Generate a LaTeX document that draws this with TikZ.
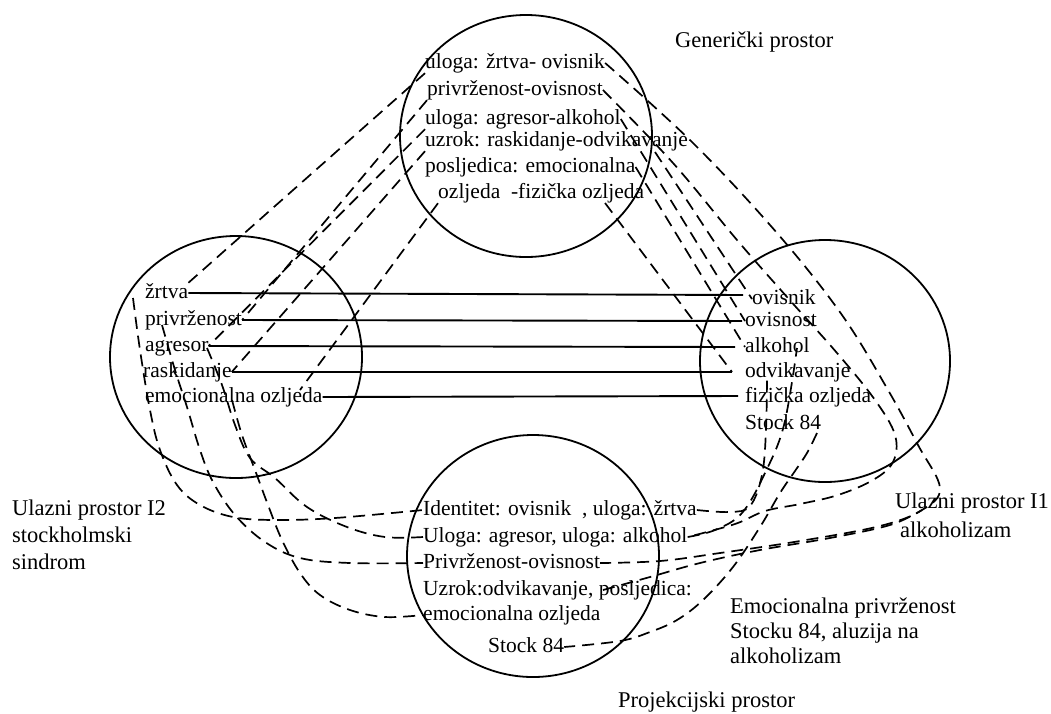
\documentclass[tikz,border=0pt]{standalone}
\usepackage{fontspec}
\setmainfont{Liberation Serif}
\begin{document}
\begin{tikzpicture}[x=1pt,y=-1pt,
  ct/.style={anchor=west,inner sep=0pt,font=\fontsize{21.5}{26}\selectfont,text height=15pt,text depth=5pt},
  lb/.style={anchor=west,inner sep=0pt,font=\fontsize{22.5}{27}\selectfont,text height=15pt,text depth=5pt},
  ring/.style={line width=1.8pt},
  sl/.style={line width=1.9pt},
  dl/.style={line width=1.7pt,dash pattern=on 12pt off 7pt}]
\fill[white] (0,0) rectangle (1051,713);
\useasboundingbox (0,0) rectangle (1051,713);

% circles
\draw[ring] (526,136) ellipse [x radius=126pt, y radius=121pt];
\draw[ring] (236,357) ellipse [x radius=126pt, y radius=121pt];
\draw[ring] (825,361) ellipse [x radius=125pt, y radius=121pt];
\draw[ring] (533,556) ellipse [x radius=126pt, y radius=121pt];

% generic space
\node[ct] (t1) at (425,63) {uloga: žrtva- ovisnik};
\node[ct] (t2) at (427,90) {privrženost-ovisnost};
\node[ct] (t3) at (425,119) {uloga: agresor-alkohol};
\node[ct] (t4) at (425,141) {uzrok: raskidanje-odvikavanje};
\node[ct] (t5) at (425,167) {posljedica: emocionalna};
\node[ct] (t6) at (438,193) {ozljeda\ \ -fizička ozljeda};

% input I2
\node[ct] (l1) at (145,293) {žrtva};
\node[ct] (l2) at (145,320) {privrženost};
\node[ct] (l3) at (145,346) {agresor};
\node[ct] (l4) at (143,372) {raskidanje};
\node[ct] (l5) at (145,397) {emocionalna ozljeda};

% input I1
\node[ct] (r1) at (752,299) {ovisnik};
\node[ct] (r2) at (745,321) {ovisnost};
\node[ct] (r3) at (745,347) {alkohol};
\node[ct] (r4) at (745,372) {odvikavanje};
\node[ct] (r5) at (745,397) {fizička ozljeda};
\node[ct] (r6) at (745,424) {Stock 84};

% blend
\node[ct] (b1) at (423,510) {Identitet: ovisnik \ , uloga: žrtva};
\node[ct] (b2) at (423,537) {Uloga: agresor, uloga: alkohol};
\node[ct] (b3) at (423,563) {Privrženost-ovisnost};
\node[ct] (b4) at (423,590) {Uzrok:odvikavanje, posljedica:};
\node[ct] (b5) at (423,615) {emocionalna ozljeda};
\node[ct] (b6) at (488,647) {Stock 84};

% labels
\node[lb] (gen) at (675,42) {Generički prostor};
\node[lb] (i2a) at (12,510) {Ulazni prostor I2};
\node[lb] (i2b) at (12,537) {stockholmski};
\node[lb] (i2c) at (12,564) {sindrom};
\node[lb] (i1a) at (895,503) {Ulazni prostor I1};
\node[lb] (i1b) at (900,532) {alkoholizam};
\node[lb] (em1) at (730,608) {Emocionalna privrženost};
\node[lb] (em2) at (730,633) {Stocku 84, aluzija na};
\node[lb] (em3) at (730,658) {alkoholizam};
\node[lb] (proj) at (618,702) {Projekcijski prostor};

% free ends
\coordinate (l1m) at (133,298);
\coordinate (l2m) at (162,325);
\coordinate (l3m) at (207,348);
\coordinate (l5m) at (232,400);
\coordinate (l5n) at (300,390);
\coordinate (r3m) at (797,348);
\coordinate (r4m) at (767,375);
\coordinate (r6m) at (817,433);
\coordinate (b4m) at (603,590);
\coordinate (t4m) at (655,152);
\coordinate (t6m) at (605,203);

% solid cross-space mappings
\draw[sl] (l1.east) -- ([xshift=-9pt,yshift=4pt]r1.west);
\draw[sl] (l2.east) -- ([xshift=-3pt]r2.west);
\draw[sl] (l3.east) -- ([xshift=-10pt]r3.west);
\draw[sl] (l4.east) -- ([xshift=-13pt]r4.west);
\draw[sl] (l5.east) -- ([xshift=-7pt,yshift=1pt]r5.west);

% generic -> I2
\draw[dl] (t1.south west) -- (l1.north east);
\draw[dl] (t2.south west) -- (l2.east);
\draw[dl] (t3.south west) -- (l3.east);
\draw[dl] (t4.south west) -- (l4.east);
\draw[dl] (t6.south west) -- (l5n);

% generic -> I1
\draw[dl] (t3.east) -- (r2.west);
\draw[dl] (t5.east) -- (r3.west);
\draw[dl] (t6m) -- ([xshift=-13pt]r4.west);
\draw[dl] (t4m) -- (r1.west);

% generic -> blend (around I1)
\draw[dl] plot[smooth,tension=0.6] coordinates {(t1.east) (693,143) (777,233) (842,315) (888,390) (918,445) (940,488) (922,510) (880,526) (800,541) (720,553) (660,561) (b3.east)};
\draw[dl] plot[smooth,tension=0.6] coordinates {(t2.east) (673,163) (737,240) (787,297) (837,353) (875,400) (895,435) (893,462) (873,480) (838,495) (800,504) (765,511) (735,524) (b2.east)};
\draw[dl] plot[smooth,tension=0.6] coordinates {(b4m) (650,577) (700,563) (760,550) (830,538) (890,525) (922,510)};

% I1 -> blend
\draw[dl] plot[smooth,tension=0.6] coordinates {(b1.east) (730,512) (750,506) (762,475) (766,430) (r4m)};
\draw[dl] plot[smooth,tension=0.6] coordinates {(b2.east) (715,530) (742,513) (765,473) (784,425) (r3m)};
\draw[dl] plot[smooth,tension=0.6] coordinates {(r6m) (807,453) (795,471) (780,493) (760,527) (733,567) (703,600) (677,620) (650,632) (620,641) (b6.east)};

% I2 -> blend
\draw[dl] plot[smooth,tension=0.6] coordinates {(l1m) (140,350) (150,410) (160,450) (177,485) (200,505) (233,517) (275,520) (335,518) (b1.west)};
\draw[dl] plot[smooth,tension=0.6] coordinates {(l2m) (175,370) (187,407) (200,450) (213,482) (235,515) (265,542) (300,558) (350,563) (b3.west)};
\draw[dl] plot[smooth,tension=0.6] coordinates {(l5m) (242,435) (255,470) (268,505) (282,540) (300,573) (320,595) (350,610) (385,617) (b5.west)};
\draw[dl] plot[smooth,tension=0.6] coordinates {(l3m) (222,385) (235,425) (250,458) (275,478) (307,507) (347,527) (385,537) (b2.west)};
\end{tikzpicture}
\end{document}
